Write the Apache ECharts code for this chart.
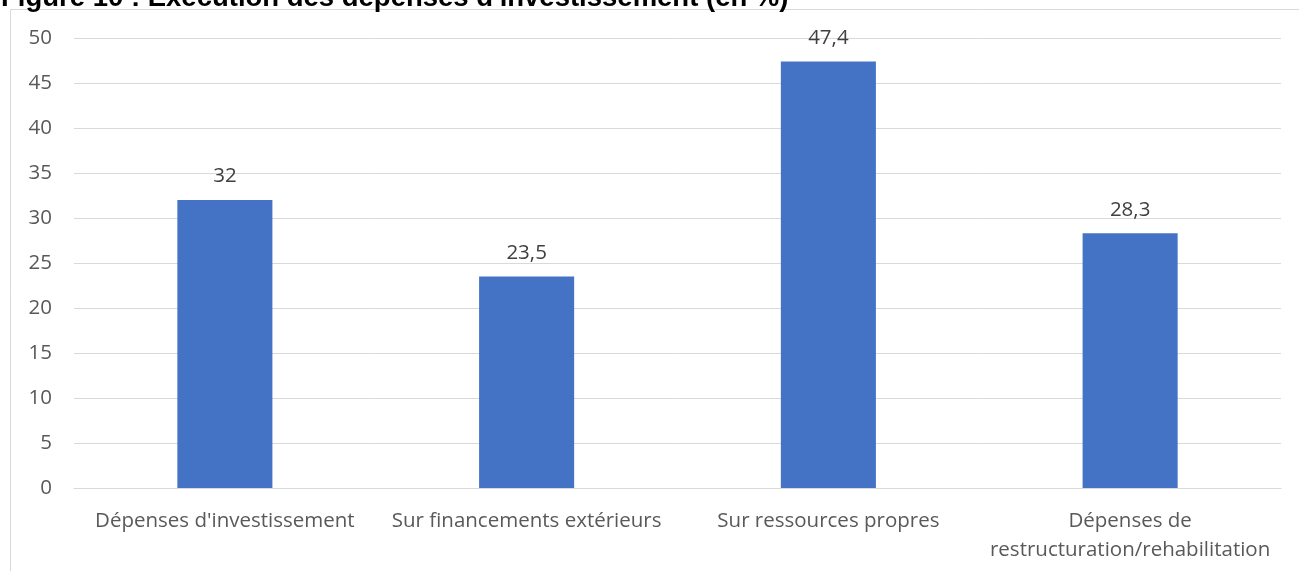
<!DOCTYPE html>
<html>
<head>
<meta charset="utf-8">
<script src="https://cdn.jsdelivr.net/npm/echarts@6/dist/echarts.min.js"></script>
<style>
  html, body { margin: 0; padding: 0; background: #fff; }
  #chart { width: 1299px; height: 571px; }
</style>
</head>
<body>
<div id="chart"></div>
<script>
  // données
  var categories = [
    "Dépenses d'investissement",
    'Sur financements extérieurs',
    'Sur ressources propres',
    'Dépenses de\nrestructuration/rehabilitation'
  ];
  var values = [32, 23.5, 47.4, 28.3];
  var yTicks = [0, 50, 5]; // min, max, pas
  var titleText = "Figure 10 : Exécution des dépenses d'investissement (en %)";

  var myChart = echarts.init(document.getElementById('chart'));
  var font = '"Open Sans", "Noto Sans", sans-serif';

  var option = {
    animation: false,
    graphic: [
      {
        type: 'rect',
        shape: { x: 10.5, y: 9.5, width: 1400, height: 700 },
        style: { fill: null, stroke: '#d9d9d9', lineWidth: 1 },
        silent: true
      },
      {
        type: 'text',
        left: 1,
        top: -16,
        style: {
          text: titleText,
          font: 'bold 27.5px "Liberation Sans", Arial, sans-serif',
          fill: '#000'
        }
      }
    ],
    grid: { left: 74, right: 18, top: 38, bottom: 83 },
    xAxis: {
      type: 'category',
      data: categories,
      axisLine: { lineStyle: { color: '#d9d9d9' } },
      axisTick: { show: false },
      axisLabel: {
        color: '#595959',
        fontFamily: font,
        fontSize: 20.5,
        margin: 19,
        lineHeight: 29,
        interval: 0
      }
    },
    yAxis: {
      type: 'value',
      min: yTicks[0],
      max: yTicks[1],
      interval: yTicks[2],
      axisLine: { show: false },
      axisTick: { show: false },
      splitLine: { lineStyle: { color: '#d9d9d9' } },
      axisLabel: {
        color: '#595959',
        fontFamily: font,
        fontSize: 20.5,
        margin: 22
      }
    },
    series: [{
      type: 'bar',
      data: values,
      barWidth: '31.5%',
      itemStyle: { color: '#4472c4' },
      label: {
        show: true,
        position: 'top',
        distance: 13,
        color: '#404040',
        fontFamily: font,
        fontSize: 20.5,
        formatter: function (p) {
          return String(p.value).replace('.', ',');
        }
      }
    }]
  };

  myChart.setOption(option, true);
</script>
</body>
</html>
